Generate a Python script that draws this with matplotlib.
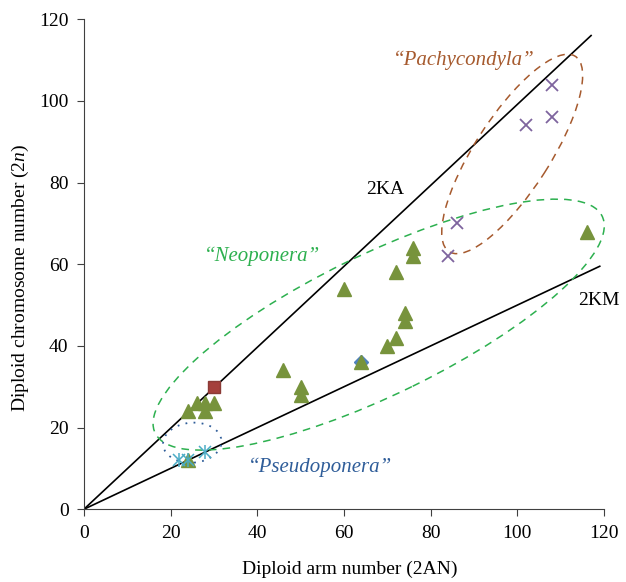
import matplotlib
matplotlib.use("Agg")
import matplotlib.pyplot as plt
from matplotlib.patches import Ellipse

plt.rcParams['font.family'] = ['Liberation Serif', 'DejaVu Serif']
plt.rcParams['mathtext.fontset'] = 'custom'
plt.rcParams['mathtext.it'] = 'Liberation Serif:italic'
plt.rcParams['mathtext.rm'] = 'Liberation Serif'

# --- data ---
tri_x = [24, 26, 28, 28, 30, 24, 46, 50, 50, 60, 64, 70, 72, 74, 74, 72, 76, 76, 116]
tri_y = [24, 26, 26, 24, 26, 12, 34, 30, 28, 54, 36, 40, 42, 48, 46, 58, 64, 62, 68]
x_x = [108, 108, 102, 86, 84]
x_y = [104, 96, 94, 70, 62]
star_x = [22, 24, 28]
star_y = [12, 12, 14]
sq_x = [30]
sq_y = [30]
dia_x = [64]
dia_y = [36]

# reference lines 2KA and 2KM
ka_x = [0, 117]
ka_y = [0, 116]
km_x = [0, 119]
km_y = [0, 59.5]

GREEN = "#77933C"
PURPLE = "#7E649E"
TEAL = "#4BACC6"
RED = "#A5403C"
BLUE = "#4F81BD"

fig = plt.figure(figsize=(6.26, 5.82), dpi=100)
ax = fig.add_axes([0.134, 0.125, 0.831, 0.842])

ax.plot(ka_x, ka_y, color="black", lw=1.2, zorder=2)
ax.plot(km_x, km_y, color="black", lw=1.2, zorder=2)

# group outlines
ax.add_patch(Ellipse((68, 45.2), 116, 34, angle=27.5, fill=False, clip_on=False,
                     ec="#2DB04F", ls=(0, (5, 4)), lw=1.1, zorder=3))
ax.add_patch(Ellipse((98.8, 87), 56, 17.5, angle=59, fill=False, clip_on=False,
                     ec="#A65A2E", ls=(0, (5, 4)), lw=1.1, zorder=3))
ax.add_patch(Ellipse((25, 16.3), 13.5, 9.8, angle=5, fill=False, clip_on=False,
                     ec="#2F5D99", ls=(0, (1, 3.5)), lw=1.3, zorder=3))

ax.plot(dia_x, dia_y, "D", color=BLUE, ms=7, ls="none", zorder=4)
ax.plot(tri_x, tri_y, "^", color=GREEN, ms=9.5, ls="none", zorder=5)
ax.plot(sq_x, sq_y, "s", color=RED, ms=9, mec="#8B3A36", ls="none", zorder=5)
ax.plot(x_x, x_y, "x", color=PURPLE, ms=9, mew=1.3, ls="none", zorder=5)
# asterisk marks: an x with a vertical bar through it
ax.plot(star_x, star_y, "x", color=TEAL, ms=9, mew=1.1, ls="none", zorder=6)
ax.plot(star_x, star_y, "|", color=TEAL, ms=10, mew=1.1, ls="none", zorder=6)

ax.text(69.5, 78.4, "2KA", fontsize=14, ha="center", va="center")
ax.text(118.9, 51.2, "2KM", fontsize=14, ha="center", va="center")
ax.text(41.1, 62, "\u201cNeoponera\u201d", fontsize=15, style="italic",
        color="#2DB04F", ha="center", va="center")
ax.text(87.7, 110, "\u201cPachycondyla\u201d", fontsize=15, style="italic",
        color="#A65A2E", ha="center", va="center")
ax.text(54.5, 10.3, "\u201cPseudoponera\u201d", fontsize=15, style="italic",
        color="#2F5D99", ha="center", va="center")

ax.set_xlim(0, 120)
ax.set_ylim(0, 120)
ax.set_xticks(range(0, 121, 20))
ax.set_yticks(range(0, 121, 20))
for s in ["top", "right"]:
    ax.spines[s].set_visible(False)
for s in ["left", "bottom"]:
    ax.spines[s].set_color("#404040")
ax.tick_params(direction="out", length=5, color="#404040", labelsize=14, pad=6)
ax.set_xlabel("Diploid arm number (2AN)", fontsize=14)
ax.set_ylabel("Diploid chromosome number (2$\\mathit{n}$)", fontsize=14)
ax.xaxis.set_label_coords(0.512, -0.105)
ax.yaxis.set_label_coords(-0.102, 0.473)

fig.savefig("out.png", dpi=100)
